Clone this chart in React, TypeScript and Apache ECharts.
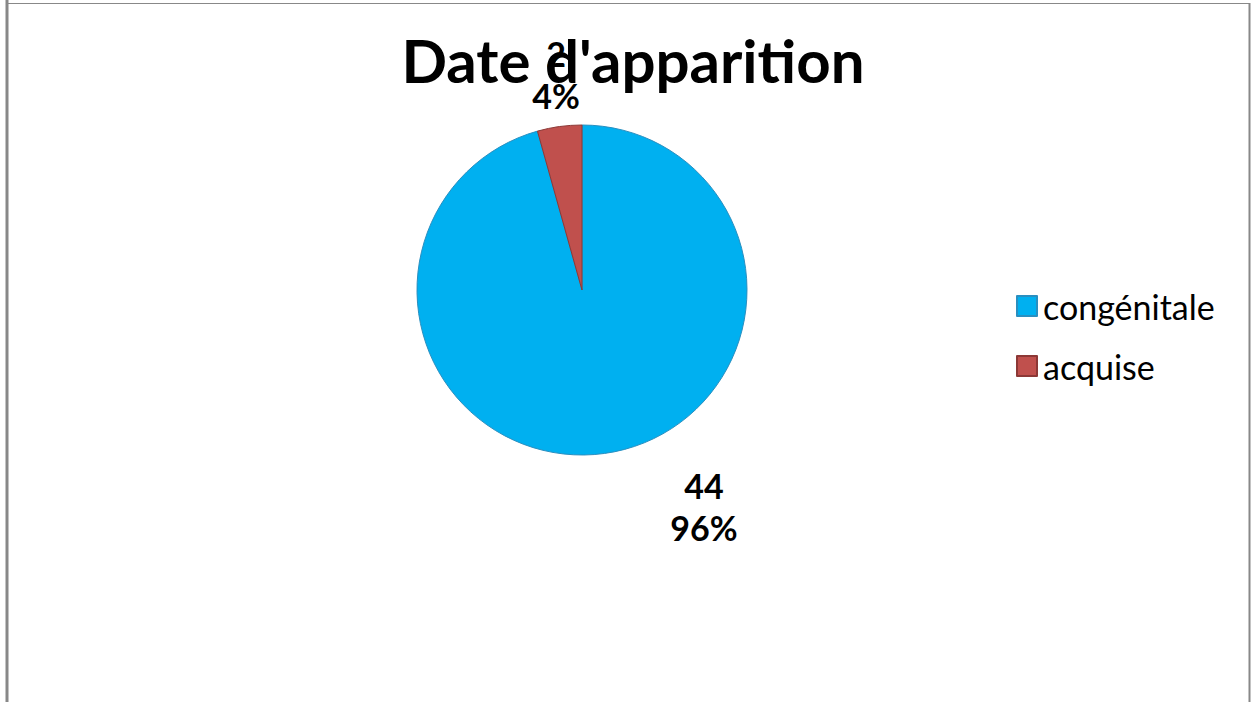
import React, { useEffect, useRef } from "react";
import * as echarts from "echarts";

const title = "Date d'apparition";
const categories = ["congénitale", "acquise"];
const values = [44, 2];
const percents = ["96%", "4%"];
const colors = ["#00B0F0", "#C0504D"];
const borderColors = ["#2a8fc0", "#8c3836"];

export default function App() {
  const ref = useRef<HTMLDivElement>(null);
  useEffect(() => {
    if (!ref.current) return;
    const chart = echarts.init(ref.current, null, { renderer: "svg" });
    const fontFamily = "Lato, 'Open Sans', sans-serif";
    chart.setOption({
      animation: false,
      backgroundColor: "#ffffff",
      title: {
        text: title,
        left: 628,
        textAlign: "center",
        top: 25,
        textStyle: { fontSize: 60, fontWeight: "bold", color: "#000", fontFamily },
      },
      legend: {
        orient: "vertical",
        left: 1011,
        top: 284,
        itemWidth: 20,
        itemHeight: 20,
        itemGap: 26,
        icon: "rect",
        data: categories,
        textStyle: { fontSize: 34, color: "#000", fontFamily, padding: [0, 0, 0, 1] },
      },
      graphic: [
        { type: "line", shape: { x1: 7, y1: 0, x2: 7, y2: 702 }, style: { stroke: "#888", lineWidth: 3 } },
        { type: "line", shape: { x1: 6, y1: 3.5, x2: 1250, y2: 3.5 }, style: { stroke: "#888", lineWidth: 1 } },
        { type: "line", shape: { x1: 1249.5, y1: 3, x2: 1249.5, y2: 702 }, style: { stroke: "#888", lineWidth: 2 } },
      ],
      series: [
        {
          type: "pie",
          center: [582, 290],
          radius: 165,
          startAngle: 90,
          clockwise: true,
          data: categories.map((c, i) => ({
            name: c,
            value: values[i],
            itemStyle: { color: colors[i], borderColor: borderColors[i], borderWidth: 1 },
          })),
          label: {
            show: true,
            position: "outside",
            formatter: (p: any) => `${p.value}\n${percents[p.dataIndex]}`,
            fontSize: 34,
            fontWeight: "bold",
            lineHeight: 42,
            color: "#000",
            fontFamily,
            align: "center",
          },
          labelLine: { show: false },
          labelLayout: (p: any) => {
            if (p.dataIndex === 0) return { x: 704, y: 506, align: "center", verticalAlign: "middle" };
            return { x: 556, y: 74, align: "center", verticalAlign: "middle" };
          },
        },
      ],
    });
    return () => chart.dispose();
  }, []);
  return <div ref={ref} style={{ width: 1252, height: 702, position: "absolute", left: 0, top: 0 }} />;
}
